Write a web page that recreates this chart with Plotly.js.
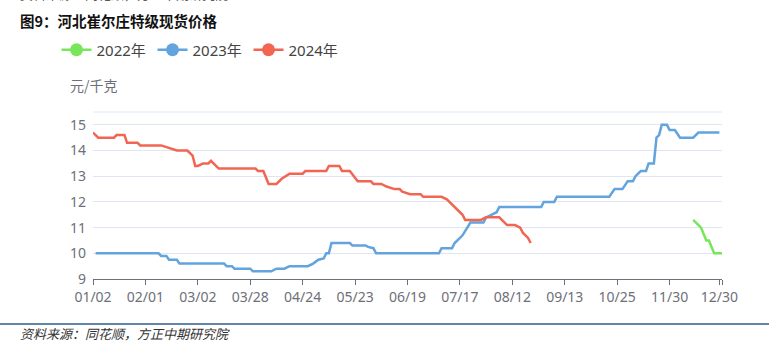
<!DOCTYPE html>
<html>
<head>
<meta charset="utf-8">
<script src="https://cdn.plot.ly/plotly-3.0.1.min.js"></script>
<style>html,body{margin:0;padding:0;background:#fff;}#chart{width:769px;height:351px;}</style>
</head>
<body>
<div id="chart"></div>
<script>
// Category axis: trading-day index, labelled every 20 days
const tickIdx = [0, 20, 40, 60, 80, 100, 120, 140, 160, 180, 200, 220, 239, 240];
const tickLabels = ['01/02','02/01','03/02','03/28','04/24','05/23','06/19','07/17','08/12','09/13','10/25','11/30','12/30',''];

// 2022 (only tail of year shown)
const x2022 = [229, 230, 231, 232, 234, 235, 237, 240];
const y2022 = [11.3, 11.2, 11.1, 11.0, 10.5, 10.5, 10.0, 10.0];

// 2023
const x2023 = [1, 25, 26, 28, 29, 32, 33, 50, 51, 53, 54, 60, 61, 68, 70, 73, 75, 82, 84, 86, 88, 89, 90, 91, 98, 99, 104, 105, 107, 108, 132, 133, 137, 138, 141, 143, 144, 149, 150, 152, 154, 155, 171, 172, 176, 177, 197, 199, 202, 204, 206, 207, 209, 211, 212, 214, 215, 216, 217, 219, 220, 222, 224, 229, 231, 239];
const y2023 = [10.0, 10.0, 9.9, 9.9, 9.75, 9.75, 9.6, 9.6, 9.5, 9.5, 9.4, 9.4, 9.3, 9.3, 9.4, 9.4, 9.5, 9.5, 9.6, 9.75, 9.8, 10.0, 10.0, 10.4, 10.4, 10.3, 10.3, 10.25, 10.2, 10.0, 10.0, 10.2, 10.2, 10.4, 10.7, 11.0, 11.2, 11.2, 11.4, 11.5, 11.6, 11.8, 11.8, 12.0, 12.0, 12.2, 12.2, 12.5, 12.5, 12.8, 12.8, 13.0, 13.2, 13.2, 13.5, 13.5, 14.5, 14.6, 15.0, 15.0, 14.8, 14.8, 14.5, 14.5, 14.7, 14.7];

// 2024
const x2024 = [0, 2, 8, 9, 12, 13, 17, 18, 26, 29, 32, 36, 38, 39, 40, 42, 44, 45, 46, 48, 62, 63, 65, 67, 70, 72, 75, 80, 81, 89, 90, 94, 95, 98, 101, 106, 107, 110, 112, 115, 117, 118, 121, 125, 126, 133, 135, 137, 139, 141, 142, 148, 150, 155, 158, 161, 163, 164, 166, 167];
const y2024 = [14.7, 14.5, 14.5, 14.6, 14.6, 14.3, 14.3, 14.2, 14.2, 14.1, 14.0, 14.0, 13.8, 13.4, 13.4, 13.5, 13.5, 13.6, 13.5, 13.3, 13.3, 13.2, 13.2, 12.7, 12.7, 12.9, 13.1, 13.1, 13.2, 13.2, 13.4, 13.4, 13.2, 13.2, 12.8, 12.8, 12.7, 12.7, 12.6, 12.5, 12.5, 12.4, 12.3, 12.3, 12.2, 12.2, 12.1, 11.9, 11.7, 11.5, 11.3, 11.3, 11.4, 11.4, 11.1, 11.1, 11.0, 10.8, 10.6, 10.4];

const names = ['2022年', '2023年', '2024年'];
const colors = ['#77e65a', '#63a3de', '#f26553'];
const xs = [x2022, x2023, x2024];
const ys = [y2022, y2023, y2024];

const FONT = 'Noto Sans, Noto Sans CJK SC, sans-serif';
const traces = [];
for (let i = 0; i < 3; i++) {
  traces.push({
    x: xs[i], y: ys[i], type: 'scatter', mode: 'lines', name: names[i],
    line: {color: colors[i], width: 2.5}, showlegend: false, cliponaxis: false, hoverinfo: 'skip'
  });
}
for (let i = 0; i < 3; i++) {
  traces.push({
    x: [null], y: [null], type: 'scatter', mode: 'lines+markers', name: names[i],
    line: {color: colors[i], width: 2.5}, marker: {color: colors[i], size: 13}, showlegend: true
  });
}

const layout = {
  width: 769, height: 351,
  margin: {l: 93, r: 47, t: 112, b: 72},
  paper_bgcolor: '#fff', plot_bgcolor: '#fff',
  font: {family: FONT, size: 14, color: '#6e7079'},
  showlegend: true,
  legend: {
    orientation: 'h', x: -0.058, xanchor: 'left', y: 1.47, yanchor: 'top',
    font: {family: FONT, size: 15, color: '#444'},
    entrywidth: 51, entrywidthmode: 'pixels', itemclick: false, bgcolor: 'rgba(0,0,0,0)'
  },
  xaxis: {
    range: [0, 240], tickmode: 'array', tickvals: tickIdx, ticktext: tickLabels,
    showgrid: false, zeroline: false, showline: true, linecolor: '#6e7079', linewidth: 1,
    ticks: 'outside', ticklen: 5, tickcolor: '#6e7079', tickfont: {size: 14, color: '#6e7079'}
  },
  yaxis: {
    range: [9, 15.5], tickmode: 'array', tickvals: [9, 10, 11, 12, 13, 14, 15],
    showgrid: true, gridcolor: '#e0e6f1', gridwidth: 1, zeroline: false, showline: false,
    ticks: '', ticklabelstandoff: 6, tickfont: {size: 14, color: '#6e7079'}
  },
  shapes: [
    {type: 'line', xref: 'paper', yref: 'paper', x0: 0, x1: 1, y0: 1, y1: 1, line: {color: '#e0e6f1', width: 1}},
    {type: 'line', xref: 'paper', yref: 'paper', x0: -118/629, x1: 676/629, y0: -45/167, y1: -45/167, line: {color: '#2e5d8c', width: 1.5}}
  ],
  annotations: [
    {text: '<b>图9：河北崔尔庄特级现货价格</b>', xref: 'paper', yref: 'paper', x: -75/629, xanchor: 'left', y: (279 - 20)/167, yanchor: 'middle', showarrow: false, font: {family: 'Noto Sans CJK SC', size: 14.5, color: '#111'}},
    {text: '元/千克', xref: 'paper', yref: 'paper', x: -25/629, xanchor: 'left', y: (279 - 85)/167, yanchor: 'middle', showarrow: false, font: {family: 'Noto Sans CJK SC', size: 14, color: '#6e7079'}},
    {text: '<i>资料来源：同花顺，方正中期研究院</i>', xref: 'paper', yref: 'paper', x: -75/629, xanchor: 'left', y: (279 - 333)/167, yanchor: 'middle', showarrow: false, font: {family: 'Noto Sans CJK SC', size: 13, color: '#333'}},
    {text: '资料来源：同花顺，方正中期研究院', xref: 'paper', yref: 'paper', x: -75/629, xanchor: 'left', y: (279 + 7)/167, yanchor: 'middle', showarrow: false, font: {family: 'Noto Sans CJK SC', size: 13, color: '#555'}}
  ]
};

Plotly.newPlot('chart', traces, layout, {displayModeBar: false, staticPlot: true});
</script>
</body>
</html>
